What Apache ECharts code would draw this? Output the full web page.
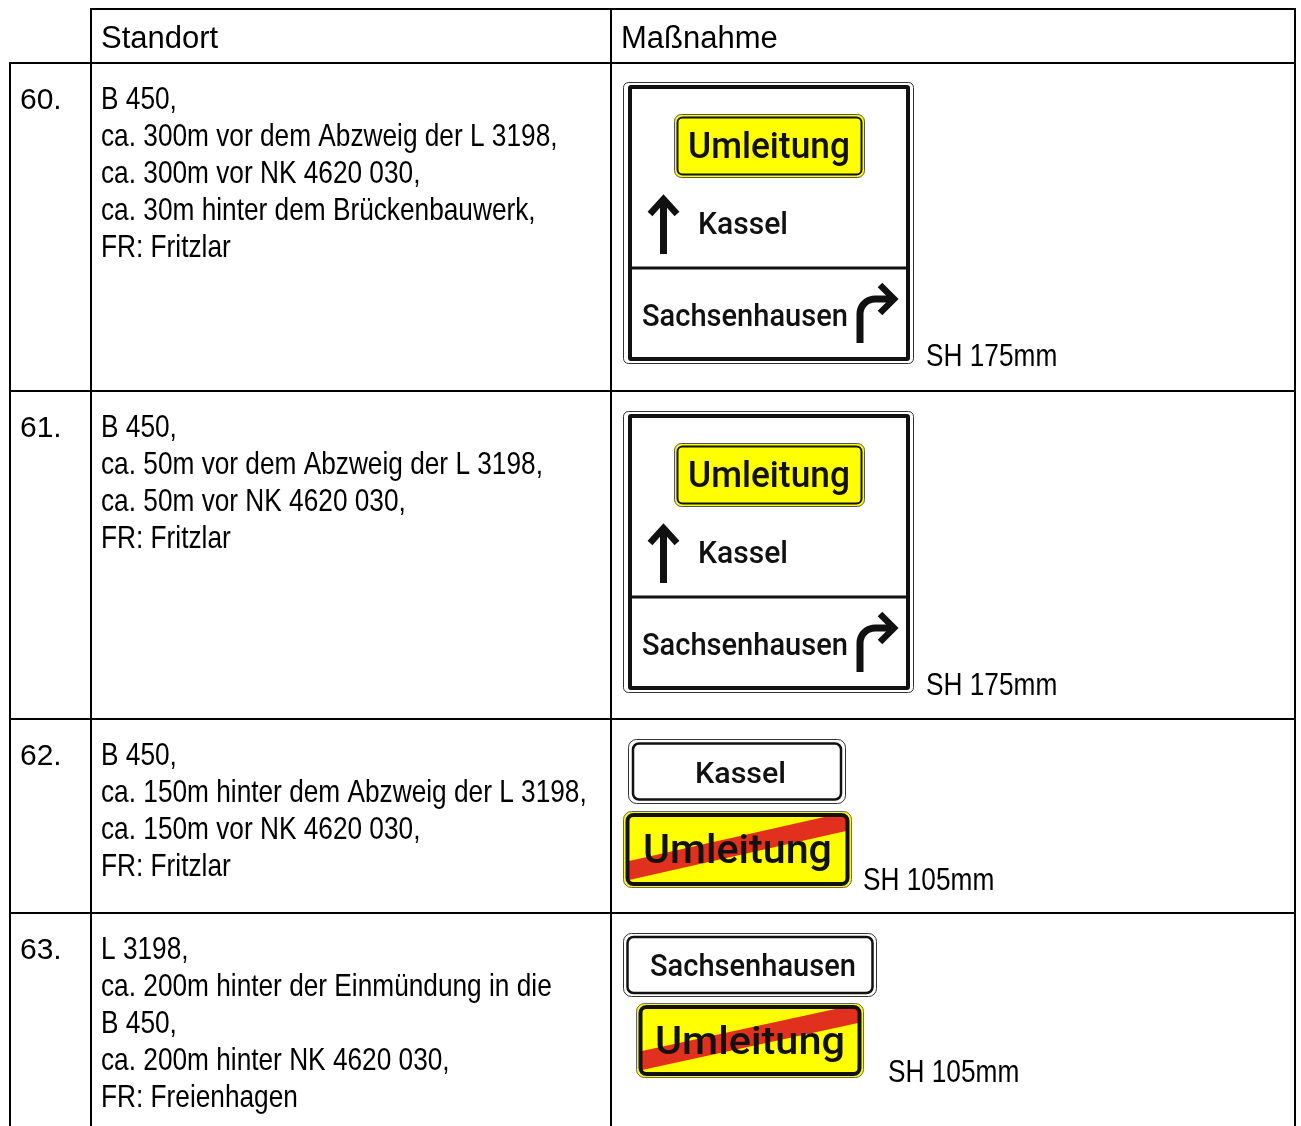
<!DOCTYPE html>
<html><head><meta charset="utf-8">
<script src="https://cdn.jsdelivr.net/npm/echarts@6/dist/echarts.min.js"></script>
<style>html,body{margin:0;padding:0;background:#fff}#chart{width:1301px;height:1126px}</style>
</head><body><div id="chart"></div>
<script>
// ---------- content ----------
const headers = ['Standort', 'Maßnahme'];
const rowNumbers = ['60.', '61.', '62.', '63.'];
const locations = [
  ['B 450,', 'ca. 300m vor dem Abzweig der L 3198,', 'ca. 300m vor NK 4620 030,', 'ca. 30m hinter dem Brückenbauwerk,', 'FR: Fritzlar'],
  ['B 450,', 'ca. 50m vor dem Abzweig der L 3198,', 'ca. 50m vor NK 4620 030,', 'FR: Fritzlar'],
  ['B 450,', 'ca. 150m hinter dem Abzweig der L 3198,', 'ca. 150m vor NK 4620 030,', 'FR: Fritzlar'],
  ['L 3198,', 'ca. 200m hinter der Einmündung in die', 'B 450,', 'ca. 200m hinter NK 4620 030,', 'FR: Freienhagen']
];
const signTypes = ['table', 'table', 'end', 'end'];
const signTitles = ['Umleitung', 'Umleitung', 'Umleitung', 'Umleitung'];
const straightDestinations = ['Kassel', 'Kassel', 'Kassel', 'Sachsenhausen'];
const rightDestinations = ['Sachsenhausen', 'Sachsenhausen', '', ''];
const sizeLabels = ['SH 175mm', 'SH 175mm', 'SH 105mm', 'SH 105mm'];

// ---------- layout ----------
const rowTops = [63, 391, 719, 913];
const tableBottom = 1130;
const colX = [10, 91, 611, 1295];
const headerTop = 9;
const lineGap = 36.8;

const ctx = document.createElement('canvas').getContext('2d');
function measure(str, font) { ctx.font = font; return ctx.measureText(str).width; }
function hasFont(name) {
  const s = 'abcdefghijklmnop ABC 0123456789';
  return measure(s, '30px monospace') !== measure(s, '30px "' + name + '", monospace');
}
const narrowAvail = hasFont('Liberation Sans Narrow');
const narrowFamily = narrowAvail ? '"Liberation Sans Narrow"' : '"Liberation Sans"';
const narrowScale = narrowAvail ? 1 : 0.82;
const bodyFont = '32px ' + narrowFamily;
const wideFont = '30px "Liberation Sans"';
const headFont = '31px "Liberation Sans"';
const signFamily = 'Roboto, "DejaVu Sans", sans-serif';

const els = [];
function line(x1, y1, x2, y2, w, color) {
  els.push({ type: 'line', shape: { x1, y1, x2, y2 }, style: { stroke: color || '#000', lineWidth: w, lineCap: 'butt' }, silent: true });
}
function rect(x, y, w, h, r, style) {
  els.push({ type: 'rect', shape: { x, y, width: w, height: h, r }, style, silent: true });
}
function text(str, x, y, font, align, scaleX, color) {
  els.push({
    type: 'text', x, y, scaleX: scaleX || 1, silent: true,
    style: { text: str, x: 0, y: 0, font, fill: color || '#000', textAlign: align || 'left', textVerticalAlign: 'middle', align: align || 'left', verticalAlign: 'middle' }
  });
}
// sign text fitted to a given visible width
function signText(str, x, y, size, width, align) {
  const font = '500 ' + size + 'px ' + signFamily;
  const s = width / measure(str, font);
  text(str, x, y + 3.5, font, align, s, '#111');
}
function poly(points, w, cap) {
  els.push({ type: 'polyline', shape: { points }, style: { stroke: '#111', lineWidth: w, lineJoin: 'miter', miterLimit: 10, lineCap: cap || 'butt', fill: null }, silent: true });
}
// clip a convex polygon to an axis-aligned rectangle
function clipPoly(pts, x1, y1, x2, y2) {
  const edges = [
    [p => p[0] >= x1, (a, b) => { const t = (x1 - a[0]) / (b[0] - a[0]); return [x1, a[1] + t * (b[1] - a[1])]; }],
    [p => p[0] <= x2, (a, b) => { const t = (x2 - a[0]) / (b[0] - a[0]); return [x2, a[1] + t * (b[1] - a[1])]; }],
    [p => p[1] >= y1, (a, b) => { const t = (y1 - a[1]) / (b[1] - a[1]); return [a[0] + t * (b[0] - a[0]), y1]; }],
    [p => p[1] <= y2, (a, b) => { const t = (y2 - a[1]) / (b[1] - a[1]); return [a[0] + t * (b[0] - a[0]), y2]; }]
  ];
  let out = pts;
  edges.forEach(([inside, cut]) => {
    const src = out; out = [];
    for (let i = 0; i < src.length; i++) {
      const cur = src[i], prev = src[(i + src.length - 1) % src.length];
      if (inside(cur)) { if (!inside(prev)) out.push(cut(prev, cur)); out.push(cur); }
      else if (inside(prev)) out.push(cut(prev, cur));
    }
  });
  return out;
}

// ---------- table grid ----------
line(colX[1] - 1, headerTop, colX[3] + 1, headerTop, 2);
rowTops.forEach(y => line(colX[0] - 1, y, colX[3] + 1, y, 2));
line(colX[0], rowTops[0] - 1, colX[0], tableBottom, 2);
line(colX[1], headerTop - 1, colX[1], tableBottom, 2);
line(colX[2], headerTop - 1, colX[2], tableBottom, 2);
line(colX[3], headerTop - 1, colX[3], tableBottom, 2);

// header
text(headers[0], colX[1] + 10, 39, headFont);
text(headers[1], colX[2] + 10, 39, headFont);

// rows
rowNumbers.forEach((n, i) => {
  const y0 = rowTops[i] + 37.5;
  text(n, 20, y0 + 0.5, wideFont);
  locations[i].forEach((l, k) => text(l, colX[1] + 10, y0 + k * lineGap, bodyFont, 'left', narrowScale));
});

// ---------- signs ----------
const YEL = '#ffff00', RED = '#e1301e';
function tableSign(i, ox, oy) {
  rect(ox + 0.5, oy + 0.5, 290, 281, 5, { fill: '#fff', stroke: '#333', lineWidth: 1 });
  rect(ox + 7, oy + 5, 278, 272, 1, { fill: null, stroke: '#111', lineWidth: 4 });
  line(ox + 7, oy + 186, ox + 285, oy + 186, 3, '#111');
  rect(ox + 51.5, oy + 32.5, 190, 63, 7, { fill: YEL, stroke: '#555', lineWidth: 1 });
  rect(ox + 54.5, oy + 35.5, 184, 57, 5, { fill: null, stroke: '#111', lineWidth: 2 });
  signText(signTitles[i], ox + 146, oy + 63, 36, 162, 'center');
  // straight arrow
  line(ox + 40.5, oy + 172, ox + 40.5, oy + 118, 7, '#111');
  poly([[ox + 27, oy + 132], [ox + 40.5, oy + 117], [ox + 54, oy + 132]], 6.5);
  signText(straightDestinations[i], ox + 75, oy + 141, 31, 90, 'left');
  signText(rightDestinations[i], ox + 19, oy + 232.5, 32, 206, 'left');
  // right-turn arrow: stem, rounded corner, horizontal
  const sx = ox + 237, by = oy + 261, hy = oy + 217, rad = 15, ex = ox + 270;
  const pts = [[sx, by], [sx, hy + rad]];
  for (let k = 1; k < 10; k++) {
    const a = Math.PI - (k / 10) * (Math.PI / 2);
    pts.push([sx + rad + rad * Math.cos(a), hy + rad - rad * Math.sin(a)]);
  }
  pts.push([sx + rad, hy], [ex, hy]);
  poly(pts, 7);
  poly([[ox + 257, oy + 203], [ox + 271, oy + 217], [ox + 257, oy + 231]], 6.5);
}
function destSign(str, x1, y1, x2, y2, inset, size, tw, cx) {
  rect(x1 + 0.5, y1 + 0.5, x2 - x1 - 1, y2 - y1 - 1, 8, { fill: '#fff', stroke: '#333', lineWidth: 1 });
  rect(x1 + inset, y1 + inset - 0.5, x2 - x1 - 2 * inset, y2 - y1 - 2 * inset + 1, 6, { fill: null, stroke: '#111', lineWidth: 2.5 });
  signText(str, cx, (y1 + y2) / 2, size, tw, 'center');
}
function endSign(str, x1, y1, x2, y2, size, tw) {
  rect(x1 + 0.5, y1 + 0.5, x2 - x1 - 1, y2 - y1 - 1, 8, { fill: YEL, stroke: '#666', lineWidth: 1 });
  const ix1 = x1 + 6, iy1 = y1 + 5.5, ix2 = x2 - 6, iy2 = y2 - 5.5;
  // red diagonal band, rising from lower left to upper right
  const yl = iy2 - 11, yr = iy1 + 4, h = 9.5;
  const band = [[ix1 - 5, yl - h], [ix2 + 5, yr - h], [ix2 + 5, yr + h], [ix1 - 5, yl + h]];
  els.push({ type: 'polygon', silent: true, shape: { points: clipPoly(band, ix1, iy1, ix2, iy2) }, style: { fill: RED } });
  signText(str, (x1 + x2) / 2, (y1 + y2) / 2, size, tw, 'center');
  rect(x1 + 4.5, y1 + 4, x2 - x1 - 9, y2 - y1 - 8, 6, { fill: null, stroke: '#111', lineWidth: 4 });
}

signTypes.forEach((t, i) => {
  if (t === 'table') tableSign(i, 623, i === 0 ? 82 : 411);
});
destSign(straightDestinations[2], 628, 739, 846, 804, 5, 30, 91, 740.5);
endSign(signTitles[2], 623, 811, 852, 888, 41, 189);
destSign(straightDestinations[3], 623, 933, 877, 997, 4.5, 31, 206, 753);
endSign(signTitles[3], 636, 1003, 864, 1078, 38, 190);

// size labels
const sizePos = [[926, 357], [926, 686], [863, 881], [888, 1073]];
sizeLabels.forEach((s, i) => text(s, sizePos[i][0], sizePos[i][1], bodyFont, 'left', narrowScale));

const chart = echarts.init(document.getElementById('chart'), null, { renderer: 'canvas' });
chart.setOption({ animation: false, backgroundColor: '#fff', graphic: { elements: els } });
</script></body></html>
